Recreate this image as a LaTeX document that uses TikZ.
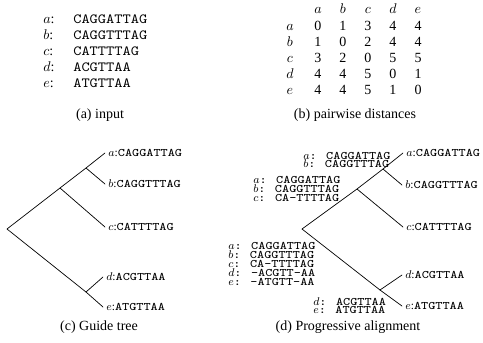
\documentclass[tikz,border=0pt]{standalone}
\usepackage{fontspec}
\usepackage{graphicx}
\setmainfont{Liberation Serif}
% typewriter sequences, widened to a Courier-like pitch
\newcommand\sqa[1]{\scalebox{1.12}[1]{\ttfamily #1}}
\newcommand\sq[1]{\scalebox{1.17}[1]{\ttfamily #1}}
\begin{document}
\begin{tikzpicture}[x=0.7143pt,y=-0.7143pt,
  txt/.style={font=\fontsize{10}{12}\selectfont, inner sep=0pt},
  seqa/.style={txt, anchor=base west},
  cell/.style={txt, anchor=base},
  captext/.style={txt, anchor=base},
  leaf/.style={font=\fontsize{8.2}{10}\selectfont, inner sep=0pt, anchor=west, xshift=2.2pt},
  aln/.style={font=\fontsize{8.2}{10}\selectfont, inner sep=0pt, anchor=base west},
  branch/.style={line width=0.5pt, line cap=round}]
\useasboundingbox (0,0) rectangle (483,342);

% (a) input sequences
\foreach \l/\s [count=\i] in {a/CAGGATTAG,b/CAGGTTTAG,c/CATTTTAG,d/ACGTTAA,e/ATGTTAA}{
  \node[seqa] (la\i) at (43,{6.8+16.2*\i}) {$\l$:};
  \node[seqa] (sa\i) at (73,{6.8+16.2*\i}) {\sqa{\s}};
}
\node[captext] (capa) at (100,118.5) {(a) input};

% (b) distance matrix
\foreach \c [count=\i] in {a,b,c,d,e}{
  \node[cell] (h\i) at ({293+25*\i},13.5) {$\c$};
  \node[cell] (r\i) at (290,{14+16*\i}) {$\c$};
}
\foreach \row [count=\i] in {{0,1,3,4,4},{1,0,2,4,4},{3,2,0,5,5},{4,4,5,0,1},{4,4,5,1,0}}{
  \foreach \v [count=\j] in \row{
    \node[cell] (m\i\j) at ({293+25*\j},{14+16*\i}) {\v};
  }
}
\node[captext] (capb) at (355,118.5) {(b) pairwise distances};

% (c) guide tree
\coordinate (cR) at (7,229);
\coordinate (cJ1) at (60,188);
\coordinate (cJ2) at (86,168);
\coordinate (cA) at (105,153);
\coordinate (cB) at (105,184);
\coordinate (cC) at (105,227);
\coordinate (cJ3) at (86,292);
\coordinate (cD) at (103,277);
\coordinate (cE) at (103,307);
\draw[branch] (cR) -- (cJ1) -- (cJ2) -- (cA);
\draw[branch] (cJ2) -- (cB);
\draw[branch] (cJ1) -- (cC);
\draw[branch] (cR) -- (cJ3) -- (cE);
\draw[branch] (cJ3) -- (cD);
\node[leaf] (cla) at (cA) {$a${:}\sq{CAGGATTAG}};
\node[leaf] (clb) at (cB) {$b${:}\sq{CAGGTTTAG}};
\node[leaf] (clc) at (cC) {$c${:}\sq{CATTTTAG}};
\node[leaf] (cld) at (cD) {$d${:}\sq{ACGTTAA}};
\node[leaf] (cle) at (cE) {$e${:}\sq{ATGTTAA}};
\node[captext] (capc) at (99,330) {(c) Guide tree};

% (d) progressive alignment
\coordinate (dR) at (302,229);
\coordinate (dJ1) at (357,189);
\coordinate (dJ2) at (383,169);
\coordinate (dA) at (403,153);
\coordinate (dB) at (402,185);
\coordinate (dC) at (403,227);
\coordinate (dJ3) at (380,290);
\coordinate (dD) at (402,275);
\coordinate (dE) at (402,306);
\draw[branch] (dR) -- (dJ1) -- (dJ2) -- (dA);
\draw[branch] (dJ2) -- (dB);
\draw[branch] (dJ1) -- (dC);
\draw[branch] (dR) -- (dJ3) -- (dE);
\draw[branch] (dJ3) -- (dD);
\node[leaf] (dla) at (dA) {$a${:}\sq{CAGGATTAG}};
\node[leaf] (dlb) at (dB) {$b${:}\sq{CAGGTTTAG}};
\node[leaf] (dlc) at (dC) {$c${:}\sq{CATTTTAG}};
\node[leaf] (dld) at (dD) {$d${:}\sq{ACGTTAA}};
\node[leaf] (dle) at (dE) {$e${:}\sq{ATGTTAA}};

% partial alignments at the inner nodes
\foreach \l/\s [count=\i] in {a/CAGGATTAG,b/CAGGTTTAG}{
  \node[aln] (p1\i) at (303,{150.3+8.7*\i}) {$\l$\sq{: \s}};
}
\foreach \l/\s [count=\i] in {a/CAGGATTAG,b/CAGGTTTAG,c/CA-TTTTAG}{
  \node[aln] (p2\i) at (253,{174.6+8.9*\i}) {$\l$\sq{: \s}};
}
\foreach \l/\s [count=\i] in {a/CAGGATTAG,b/CAGGTTTAG,c/CA-TTTTAG,d/-ACGTT-AA,e/-ATGTT-AA}{
  \node[aln] (p3\i) at (228,{240+9*\i}) {$\l$\sq{: \s}};
}
\foreach \l/\s [count=\i] in {d/ACGTTAA,e/ATGTTAA}{
  \node[aln] (p4\i) at (313,{296.3+8.7*\i}) {$\l$\sq{: \s}};
}
\node[captext] (capd) at (348,330) {(d) Progressive alignment};
\end{tikzpicture}
\end{document}
